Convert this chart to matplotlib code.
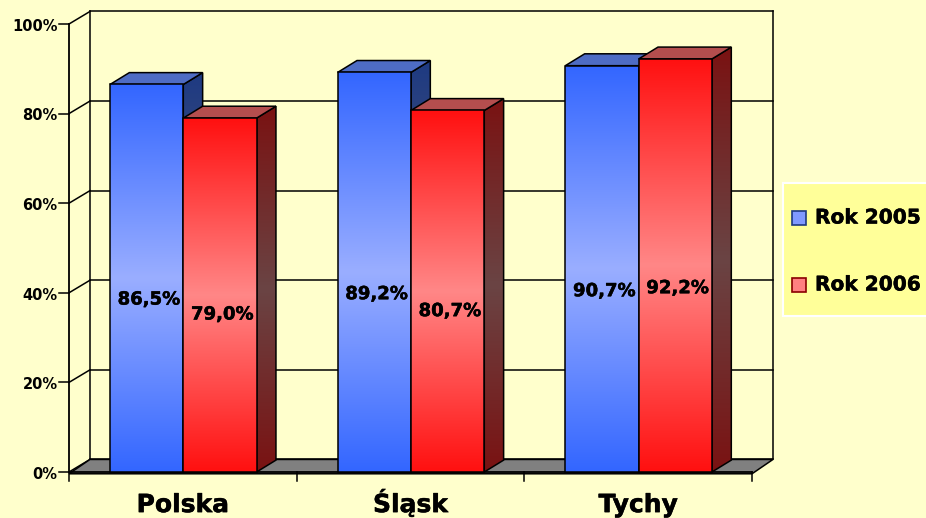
import numpy as np
import matplotlib
matplotlib.use('Agg')
import matplotlib.pyplot as plt
import matplotlib.patheffects as pe
from matplotlib.patches import Polygon, Rectangle
from matplotlib.colors import to_rgb

######data######
categories = ['Polska', 'Śląsk', 'Tychy']
series_names = ['Rok 2005', 'Rok 2006']
rok_2005 = [86.5, 89.2, 90.7]
rok_2006 = [79.0, 80.7, 92.2]
y_ticks = [0, 20, 40, 60, 80, 100]

######colours######
bg = '#FFFFCC'
front_cols = [('#3366FF', '#9AAEFF'), ('#FF1010', '#FF8787')]
side_cols = [('#1E3A82', '#4E5878'), ('#7A1212', '#6A4444')]
top_cols = ['#4E6CC4', '#B44E4E']
legend_cols = [('#8099FF', '#1E3A82'), ('#FF8080', '#8A0000')]

######geometry (front plane: x in category units, y in %)######
dx, dv = 0.092, 2.8          # depth of the box
bdx, bdv = 0.085, 2.65       # depth of the bars
bar_w = 0.322
bar_start = 0.18

# a touch heavier than plain bold
heavy = [pe.withStroke(linewidth=0.35, foreground='black')]

fig = plt.figure(figsize=(9.26, 5.18), dpi=100)
fig.patch.set_facecolor(bg)
ax = fig.add_axes([0, 0, 1, 1])
ax.set_axis_off()
xlim = (-0.3031, 3.7642)
ylim = (-10.27, 105.36)


def grad_poly(xy, c_edge, c_mid, z):
    xy = np.asarray(xy)
    clip = Polygon(xy, closed=True, transform=ax.transData, facecolor='none', edgecolor='none')
    ax.add_patch(clip)
    t = np.linspace(0, 1, 256)[:, None]
    w = 1 - np.abs(2 * t - 1)
    e = np.array(to_rgb(c_edge))
    m = np.array(to_rgb(c_mid))
    img = (e * (1 - w) + m * w)[:, None, :]
    im = ax.imshow(img, extent=(xy[:, 0].min(), xy[:, 0].max(), xy[:, 1].min(), xy[:, 1].max()),
                   origin='lower', aspect='auto', interpolation='bilinear', zorder=z)
    im.set_clip_path(clip)
    ax.add_patch(Polygon(xy, closed=True, facecolor='none', edgecolor='black', lw=1.1, zorder=z + 0.1))


######back wall, side wall, gridlines######
for v in y_ticks:
    ax.plot([dx, 3 + dx], [v + dv, v + dv], color='black', lw=1.1, zorder=1)
    ax.plot([0, dx], [v, v + dv], color='black', lw=1.1, zorder=1)
ax.plot([dx, dx], [dv, 100 + dv], color='black', lw=1.1, zorder=1)
ax.plot([3 + dx, 3 + dx], [dv, 100 + dv], color='black', lw=1.1, zorder=1)

######floor######
ax.add_patch(Polygon([(0, -0.4), (3, -0.4), (3 + dx, dv), (dx, dv)], closed=True,
                     facecolor='#808080', edgecolor='black', lw=1.1, zorder=2))

######front axis######
ax.plot([0, 0], [0, 100], color='black', lw=1.3, zorder=3)
ax.plot([0, 3], [0, 0], color='black', lw=1.3, zorder=3)
for v in y_ticks:
    ax.plot([-0.044, 0], [v, v], color='black', lw=1.1, zorder=3)
    ax.text(-0.05, v - 0.5, f'{v}%', ha='right', va='center', fontsize=10.5,
            fontweight='bold', zorder=3)
for i in range(len(categories) + 1):
    ax.plot([i, i], [0, -2.0], color='black', lw=1.1, zorder=3)
for i, c in enumerate(categories):
    ax.text(i + 0.5, -8.95, c, ha='center', va='baseline', fontsize=18, fontweight='bold',
            path_effects=heavy)

######bars######
for i in range(len(categories)):
    for s, vals in enumerate([rok_2005, rok_2006]):
        v = vals[i]
        x0 = i + bar_start + s * bar_w
        x1 = x0 + bar_w
        z = 5 + i * 2 + s
        # side face
        grad_poly([(x1, 0), (x1 + bdx, bdv), (x1 + bdx, v + bdv), (x1, v)],
                  side_cols[s][0], side_cols[s][1], z)
        # top face
        ax.add_patch(Polygon([(x0, v), (x1, v), (x1 + bdx, v + bdv), (x0 + bdx, v + bdv)],
                             closed=True, facecolor=top_cols[s], edgecolor='black',
                             lw=1.1, zorder=z + 0.2))
        # front face
        grad_poly([(x0, 0), (x1, 0), (x1, v), (x0, v)], front_cols[s][0], front_cols[s][1], z + 0.3)
        lab = f'{v:.1f}%'.replace('.', ',')
        ax.text((x0 + x1) / 2 + 0.01, v * 0.445, lab, ha='center', va='center',
                fontsize=13, fontweight='bold', zorder=20, path_effects=heavy)

ax.set_xlim(*xlim)
ax.set_ylim(*ylim)

######legend######
W, H = 926, 518
fig.patches.append(Rectangle((783 / W, 1 - 316 / H), 1.0, (316 - 183) / H, transform=fig.transFigure,
                             facecolor='#FFFF99', edgecolor='white', lw=1.5, zorder=0))
for s, name in enumerate(series_names):
    yc = 218 + s * 67
    fig.patches.append(Rectangle((792 / W, 1 - (yc + 7) / H), 14 / W, 14 / H, transform=fig.transFigure,
                                 facecolor=legend_cols[s][0], edgecolor=legend_cols[s][1], lw=1.2))
    fig.text(815 / W, 1 - yc / H, name, ha='left', va='center', fontsize=14.5, fontweight='bold',
             path_effects=heavy)

fig.savefig('out.png', dpi=100, facecolor=bg)
